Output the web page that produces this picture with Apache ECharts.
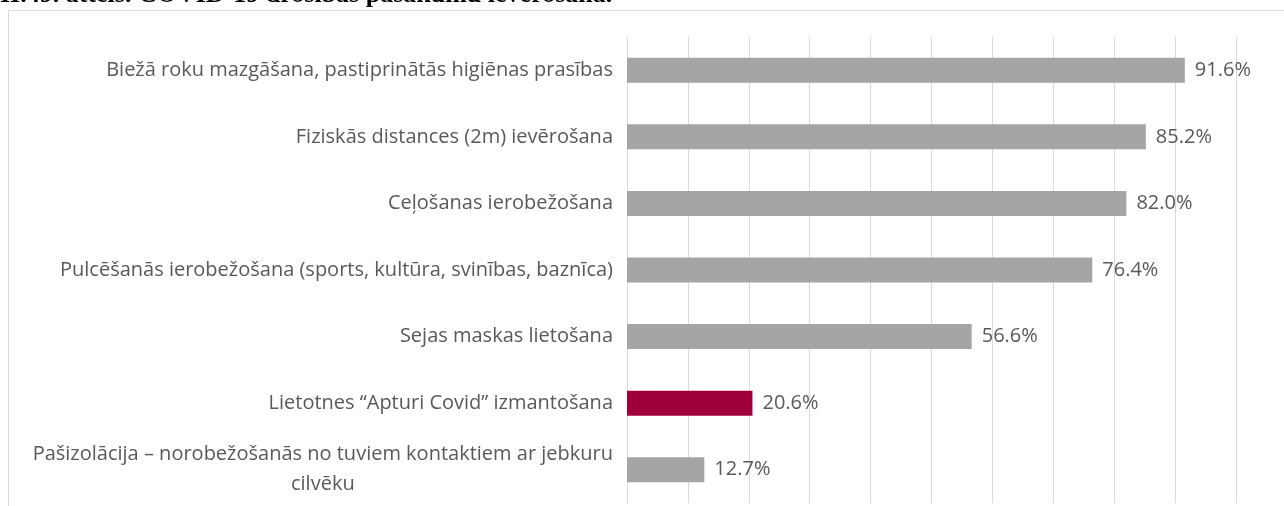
<!DOCTYPE html>
<html>
<head>
<meta charset="utf-8">
<script src="https://cdn.jsdelivr.net/npm/echarts@6/dist/echarts.min.js"></script>
<style>
html,body{margin:0;padding:0;background:#fff;}
#chart{width:1284px;height:506px;}
</style>
</head>
<body>
<div id="chart"></div>
<script>
const caption = 'II.49. attēls. COVID-19 drošības pasākumu ievērošana.';
const categories = [
  'Biežā roku mazgāšana, pastiprinātās higiēnas prasības',
  'Fiziskās distances (2m) ievērošana',
  'Ceļošanas ierobežošana',
  'Pulcēšanās ierobežošana (sports, kultūra, svinības, baznīca)',
  'Sejas maskas lietošana',
  'Lietotnes “Apturi Covid” izmantošana',
  'Pašizolācija – norobežošanās no tuviem kontaktiem ar jebkuru\ncilvēku'
];
const values = [91.6, 85.2, 82.0, 76.4, 56.6, 20.6, 12.7];
const highlighted = [false, false, false, false, false, true, false];

const chart = echarts.init(document.getElementById('chart'), null, {renderer: 'canvas'});
const FONT = 'Open Sans';
const FS = 20;
const option = {
  animation: false,
  backgroundColor: '#ffffff',
  graphic: [
    {
      type: 'rect', silent: true, z: 0,
      shape: {x: 8.5, y: 10.5, width: 1300, height: 520},
      style: {fill: 'none', stroke: '#d9d9d9', lineWidth: 1}
    },
    {
      type: 'text', left: 0, top: -18, z: 10,
      style: {text: caption, font: 'bold 26px "Liberation Serif"', fill: '#000'}
    }
  ],
  grid: {left: 627, right: 48, top: 37, bottom: 3, containLabel: false},
  xAxis: {
    type: 'value', min: 0, max: 100, interval: 10,
    axisLabel: {show: false}, axisLine: {show: false}, axisTick: {show: false},
    splitLine: {show: true, lineStyle: {color: '#d9d9d9', width: 1}}
  },
  yAxis: {
    type: 'category', inverse: true, data: categories,
    axisLine: {show: false}, axisTick: {show: false},
    axisLabel: {
      margin: 14, align: 'right',
      formatter: v => v.split('\n').map((l, i) => i === 0 ? '{a|' + l + '}' : '{b|' + l + '}').join('\n'),
      rich: {
        a: {color: '#595959', fontFamily: FONT, fontSize: FS, lineHeight: 30},
        b: {color: '#595959', fontFamily: FONT, fontSize: FS, lineHeight: 30, align: 'center'}
      }
    }
  },
  series: [{
    type: 'bar',
    barWidth: 25,
    data: values.map((v, i) => ({
      value: v,
      itemStyle: {color: highlighted[i] ? '#A0003A' : '#A5A5A5'}
    })),
    label: {
      show: true, position: 'right', distance: 10,
      color: '#595959', fontFamily: FONT, fontSize: FS,
      formatter: p => p.value.toFixed(1) + '%'
    }
  }]
};
chart.setOption(option);
</script>
</body>
</html>
